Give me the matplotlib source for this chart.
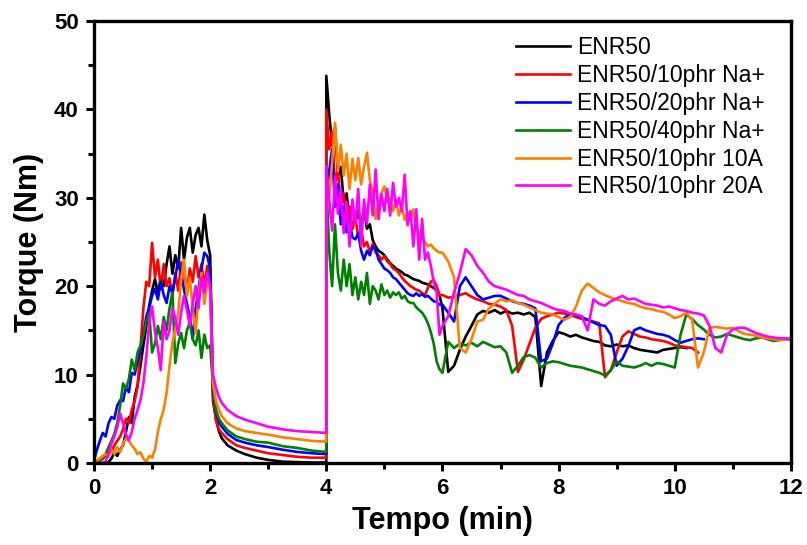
import numpy as np
import matplotlib
matplotlib.use('Agg')
import matplotlib.pyplot as plt
from matplotlib.ticker import MultipleLocator

plt.rcParams['font.family'] = ['Liberation Sans', 'DejaVu Sans']

# grades de tempo (min) por etapa do ensaio
tA = np.round(np.arange(0, 2.001, 0.05), 2)          # mistura inicial
tB = np.array([2.05, 2.1, 2.15, 2.2, 2.3, 2.45, 2.6, 2.8, 3.0, 3.25, 3.5, 3.75, 4.0])
tC = np.round(np.arange(4.0, 5.96, 0.05), 2)         # apos adicao
tD = np.round(np.arange(6.0, 12.001, 0.1), 1)
tempo = np.concatenate([tA, tB, tC, tD])

labels = ['ENR50', 'ENR50/10phr Na+', 'ENR50/20phr Na+', 'ENR50/40phr Na+',
          'ENR50/10phr 10A', 'ENR50/10phr 20A']
cores = ['#000000', '#ff0000', '#0000ff', '#008000', '#ff8000', '#ff00ff']

# ENR50
enr50 = [0, 0, 0, 0, 0, 0.1, 0.5, 1.2, 0.8, 1.5, 2.0, 3.5, 5.2, 4.5, 7.5, 8.8, 11.0, 13.3, 15.5, 17.8,
         19.5, 20.8, 19.2, 21.0, 20.0, 22.5, 24.5, 21.4, 23.5, 22.0, 26.6, 23.0, 25.5, 26.6, 23.8, 25.8,
         26.6, 24.5, 28.1, 25.2, 23.5,
         7.0, 5.0, 3.6, 2.8, 2.0, 1.4, 1.0, 0.6, 0.35, 0.15, 0.1, 0.05, 0.05,
         43.8, 39.5, 36.0, 38.0, 32.5, 33.5, 29.5, 30.5, 27.5, 28.8, 27.2, 28.5, 26.8, 28.8, 26.5, 27.0,
         25.2, 24.5, 24.0, 23.8, 23.5, 23.0, 22.6, 22.3, 22.0, 21.8, 21.6, 21.3, 21.2, 21.0, 20.8, 20.7,
         20.6, 20.4, 20.3, 20.2, 20.0, 19.8, 19.5, 19.0,
         17.5, 10.3, 11.0, 12.8, 14.3, 15.5, 16.8, 17.2, 17.0, 17.3, 16.9, 17.2, 16.9, 17.0, 16.8, 17.0,
         16.5, 8.7, 12.5, 13.8, 14.8, 14.6, 14.3, 14.5, 14.2, 14.0, 13.8, 13.7, 13.3, 13.2, 13.4, 13.2,
         13.3, 13.0, 12.8, 12.7, 12.6, 12.5, 12.8, 12.9, 13.0, 13.1, 13.0]

# ENR50/10phr Na+
na10 = [0, 0, 0.2, 0.5, 0.8, 1.5, 1.2, 2.0, 2.5, 3.0, 3.8, 5.0, 4.5, 6.0, 7.0, 8.6, 13.0, 17.5, 20.5, 20.0,
        24.9, 21.0, 23.0, 19.7, 22.5, 20.0, 20.9, 18.9, 21.5, 19.5, 22.7, 21.6, 19.5, 22.0, 20.5, 23.4,
        21.0, 22.5, 20.0, 22.3, 21.0,
        7.5, 4.8, 3.8, 3.4, 2.7, 2.0, 1.7, 1.4, 1.1, 0.9, 0.7, 0.6, 0.6,
        40.0, 35.5, 37.5, 31.5, 33.2, 29.0, 30.5, 27.5, 29.0, 26.5, 27.8, 25.5, 26.5, 24.5, 25.0, 23.8,
        24.8, 23.8, 23.5, 23.0, 23.4, 22.8, 22.5, 22.0, 21.8, 21.5, 21.0, 20.6, 20.3, 20.0, 19.8, 19.6,
        19.5, 19.2, 19.0, 19.8, 20.5, 20.7, 20.0, 19.0,
        19.0, 18.7, 18.8, 19.0, 19.2, 18.8, 18.5, 18.3, 18.0, 17.9, 17.7, 17.3, 15.5, 10.3, 11.7, 13.5,
        15.3, 16.3, 16.6, 16.8, 17.0, 16.9, 16.8, 16.5, 16.3, 16.2, 16.0, 15.8, 9.7, 10.5, 12.5, 14.3,
        14.9, 14.6, 14.3, 14.2, 14.0, 13.9, 13.8, 13.6, 13.3, 13.2, 13.1, 13.0, 12.5]

# ENR50/20phr Na+
na20 = [0.3, 1.5, 2.5, 3.4, 3.0, 4.5, 5.2, 5.0, 6.5, 7.1, 7.0, 8.6, 8.0, 10.2, 10.0, 11.5, 12.8, 14.5, 16.6,
        17.5, 18.9, 19.7, 18.5, 20.5, 19.0, 18.1, 20.0, 19.3, 21.0, 23.0, 21.5, 19.6, 18.0, 16.5, 14.0,
        17.5, 19.7, 22.0, 23.8, 23.4, 22.0,
        8.0, 5.8, 4.6, 4.1, 3.3, 2.6, 2.3, 2.0, 1.8, 1.5, 1.25, 1.1, 1.0,
        30.0, 33.0, 35.5, 29.0, 31.5, 27.0, 29.0, 26.1, 27.5, 25.5, 25.3, 26.0, 24.0, 23.0, 24.0, 23.5,
        24.5, 24.2, 23.0, 22.5, 22.0, 21.8, 21.5, 21.0, 20.8, 20.4, 20.0, 19.6, 19.2, 19.0, 18.9, 19.2,
        18.9, 19.1, 18.8, 18.9, 18.6, 18.3, 18.2, 17.9,
        17.9, 17.0, 16.0, 20.0, 21.0, 20.0, 19.0, 18.5, 18.7, 18.9, 18.9, 18.6, 18.3, 18.1, 18.0, 17.8,
        17.5, 11.5, 11.8, 13.5, 15.6, 16.4, 16.9, 16.7, 16.5, 16.2, 15.9, 15.6, 15.5, 14.5, 11.0, 11.8,
        13.2, 15.0, 15.3, 15.0, 14.8, 14.6, 14.5, 14.3, 13.9, 13.6, 13.8, 14.0, 14.1, 14.0]

# ENR50/40phr Na+
na40 = [0, 0.2, 0.3, 0.5, 1.0, 1.8, 2.5, 3.3, 4.5, 6.5, 9.0, 8.4, 9.5, 11.7, 10.5, 12.5, 13.3, 14.5, 16.0,
        17.0, 12.5, 13.5, 15.5, 14.0, 16.5, 15.0, 17.5, 19.3, 11.3, 13.5, 14.7, 13.0, 15.0, 15.9, 14.0,
        13.3, 15.0, 11.9, 14.5, 13.0, 13.3,
        8.5, 6.0, 5.0, 4.5, 3.7, 3.0, 2.7, 2.4, 2.3, 1.9, 1.7, 1.4, 1.25,
        31.7, 24.0, 20.0, 27.0, 21.5, 19.5, 23.0, 20.0, 22.5, 19.0, 21.0, 18.5, 20.5, 19.0, 21.5, 18.0,
        20.0, 19.5, 18.5, 20.2, 19.0, 19.5, 18.7, 19.3, 19.0, 19.3, 18.6, 18.9, 18.3, 18.1, 18.1, 17.6,
        17.3, 17.0, 16.5, 15.8, 14.8, 13.5, 11.5, 10.6,
        10.2, 13.7, 13.0, 13.5, 13.3, 13.6, 13.2, 13.7, 13.4, 13.1, 13.2, 12.5, 10.2, 11.0, 12.0, 12.2,
        11.9, 10.8, 11.3, 11.5, 11.4, 11.2, 11.0, 10.9, 10.8, 10.6, 10.4, 10.2, 9.9, 10.5, 11.5, 11.0,
        10.9, 10.8, 11.0, 11.3, 11.0, 11.3, 11.2, 11.0, 10.8, 14.5, 16.8, 16.3, 15.6, 15.1, 14.5, 14.2,
        14.3, 14.6, 14.4, 14.2, 14.0, 13.9, 14.1, 14.2, 14.0, 13.8, 13.9, 14.0, 14.0]

# ENR50/10phr 10A
a10 = [0, 0.3, 0.5, 0.8, 1.0, 0.7, 1.5, 1.0, 1.8, 1.2, 2.2, 2.8, 2.5, 2.0, 1.6, 1.0, 1.2, 0.5, 0.1, 0.8,
       0.6, 1.5, 3.5, 5.0, 6.0, 8.0, 11.0, 13.6, 15.2, 17.0, 20.7, 23.0, 18.9, 21.0, 17.5, 14.7, 19.0,
       21.5, 18.0, 20.5, 19.5,
       9.0, 7.0, 6.0, 5.3, 4.5, 3.9, 3.6, 3.4, 3.2, 2.9, 2.7, 2.5, 2.4,
       32.0, 30.0, 34.0, 38.5, 33.0, 36.0, 32.5, 35.0, 31.0, 34.4, 32.0, 34.5, 31.5, 33.5, 35.1, 32.0,
       30.6, 27.6, 29.5, 30.5, 31.3, 29.5, 30.0, 28.5, 29.8, 28.0, 29.0, 27.5, 28.3, 27.5, 28.7, 26.5,
       26.0, 25.5, 25.0, 24.5, 24.7, 24.3, 24.0, 23.8,
       23.8, 22.8, 21.0, 13.0, 12.5, 14.0, 16.0, 16.2, 17.5, 18.0, 18.5, 18.3, 18.4, 18.1, 17.9, 17.6,
       17.3, 17.0, 16.9, 16.8, 16.5, 16.2, 16.5, 17.7, 19.5, 20.3, 19.8, 19.3, 19.0, 18.7, 18.5, 18.3,
       18.1, 18.0, 17.7, 17.5, 17.4, 17.2, 17.1, 16.8, 16.4, 16.6, 17.0, 16.2, 10.8, 12.5, 15.3, 15.4,
       15.3, 15.2, 15.3, 14.9, 14.6, 14.5, 14.4, 14.2, 14.1, 14.0, 13.9, 14.0, 14.2]

# ENR50/10phr 20A
a20 = [0, 0, 0, 0, 0.2, 1.0, 2.2, 3.0, 4.0, 5.6, 4.5, 3.2, 2.6, 3.5, 5.0, 6.0, 7.1, 9.0, 12.0, 15.9, 17.7,
       14.8, 13.0, 10.5, 16.0, 14.0, 15.0, 17.5, 16.4, 14.5, 17.0, 18.9, 17.3, 15.5, 18.0, 20.0, 17.5,
       21.0, 19.3, 21.5, 20.0,
       10.0, 8.5, 7.5, 6.8, 6.0, 5.3, 4.9, 4.5, 4.1, 3.8, 3.6, 3.5, 3.4,
       33.6, 29.8, 26.3, 32.4, 28.2, 31.0, 26.0, 29.5, 24.5, 29.8, 27.0, 31.0, 24.5, 29.8, 27.0, 31.5,
       28.0, 33.2, 27.6, 30.4, 28.5, 31.0, 28.0, 31.7, 29.0, 30.0, 28.5, 32.6, 26.9, 28.5, 24.5, 28.7,
       23.0, 27.6, 23.0, 23.8, 22.3, 20.5, 19.3, 14.5,
       15.5, 16.6, 19.3, 21.5, 24.2, 23.5, 22.3, 21.5, 20.5, 20.0, 19.8, 19.6, 19.3, 19.0, 18.9, 18.5,
       18.3, 18.1, 17.8, 17.5, 17.3, 17.2, 16.9, 16.8, 16.6, 15.0, 18.5, 18.0, 17.8, 18.3, 18.6, 18.9,
       18.5, 18.6, 18.3, 18.0, 17.9, 17.8, 17.6, 17.7, 17.5, 17.3, 17.2, 17.0, 16.9, 16.7, 15.5, 13.0,
       12.5, 14.5, 15.1, 15.3, 15.3, 15.0, 14.7, 14.5, 14.3, 14.2, 14.1, 14.1, 14.0]

series = [enr50, na10, na20, na40, a10, a20]

fig = plt.figure(figsize=(8.07, 5.45), dpi=100)
ax = fig.add_axes([0.1165, 0.1505, 0.8635, 0.811])

for y, lab, c in zip(series, labels, cores):
    ax.plot(tempo[:len(y)], y, color=c, lw=1.9, label=lab)

ax.set_xlim(0, 12)
ax.set_ylim(0, 50)
ax.xaxis.set_major_locator(MultipleLocator(2))
ax.xaxis.set_minor_locator(MultipleLocator(1))
ax.yaxis.set_major_locator(MultipleLocator(10))
ax.yaxis.set_minor_locator(MultipleLocator(5))
ax.tick_params(which='major', direction='out', length=6, width=2.2, labelsize=16, pad=5)
ax.tick_params(which='minor', direction='out', length=4, width=2.2)
for lb in ax.get_xticklabels() + ax.get_yticklabels():
    lb.set_fontweight('bold')
for s in ax.spines.values():
    s.set_linewidth(2.4)

ax.set_xlabel('Tempo (min)', fontsize=22, fontweight='bold', labelpad=5)
ax.set_ylabel('Torque (Nm)', fontsize=22, fontweight='bold', labelpad=7)

ax.legend(loc='upper left', bbox_to_anchor=(0.5925, 0.986), frameon=False, fontsize=16.5,
          handlelength=2.36, handletextpad=0.3, labelspacing=0.21, borderaxespad=0)

fig.savefig('out.png', dpi=100)
